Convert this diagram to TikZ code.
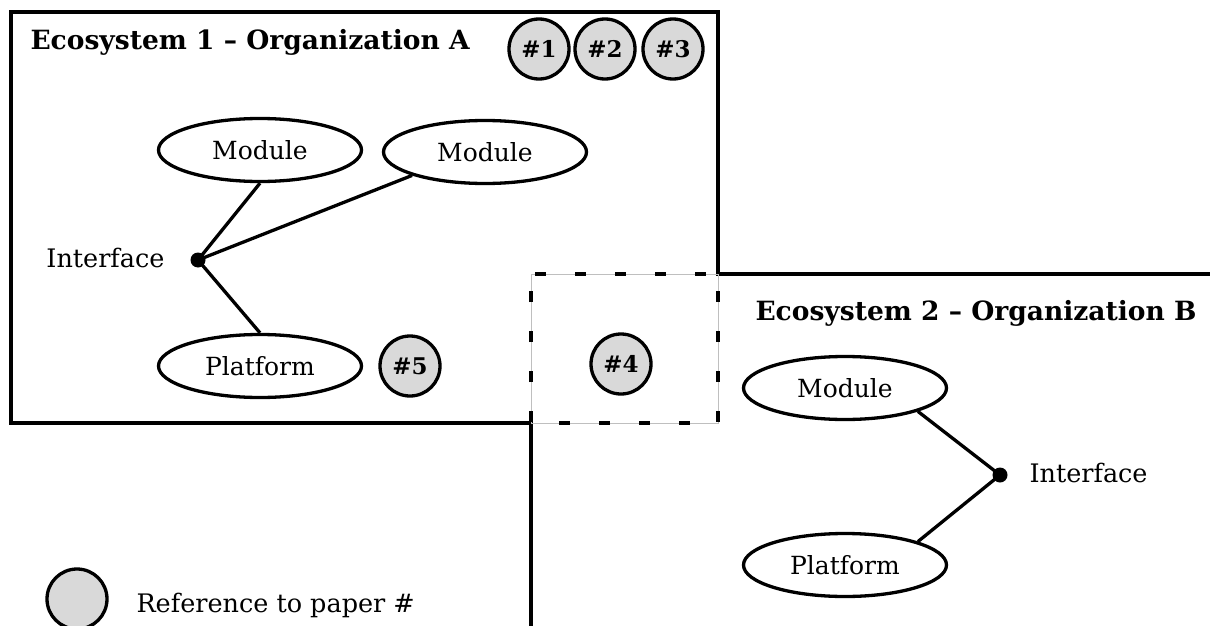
\documentclass[tikz,border=0pt]{standalone}
\usepackage{fontspec}
\setmainfont{DejaVu Serif}
\usetikzlibrary{shapes.geometric}
\definecolor{refgray}{HTML}{D9D9D9}
\begin{document}
\begin{tikzpicture}[x=1pt,y=-1pt,
  every node/.style={font=\fontsize{25}{28}\selectfont},
  boundary/.style={line width=4pt, line cap=rect},
  elem/.style={draw, ellipse, line width=3.3pt, minimum width=203pt, minimum height=63pt, inner sep=0pt},
  ref/.style={draw, circle, line width=3.3pt, fill=refgray, minimum size=60pt, inner sep=0pt, font=\fontsize{23}{26}\selectfont\bfseries},
  link/.style={line width=3.3pt},
  ifdot/.style={circle, fill=black, minimum size=15pt, inner sep=0pt},
  title/.style={anchor=west, font=\fontsize{26.5}{30}\selectfont\bfseries},
  lab/.style={font=\fontsize{25.5}{28}\selectfont}
]
\useasboundingbox (0,0) rectangle (1210,626);

% boundaries
\coordinate (c1) at (718,274);
\coordinate (c2) at (718,12);
\coordinate (c3) at (11,12);
\coordinate (c4) at (11,423);
\coordinate (c5) at (531,423);
\coordinate (c6) at (1212,274);
\coordinate (c7) at (531,628);
\coordinate (c8) at (531,274);
\coordinate (c9) at (718,423);
\draw[boundary] (c1) -- (c2) -- (c3) -- (c4) -- (c5);
\draw[boundary] (c1) -- (c6);
\draw[boundary] (c5) -- (c7);
\draw[gray!50, line width=1pt] (c8) rectangle (c9);
\draw[line width=4pt, dash pattern=on 11pt off 29pt, dash phase=-4pt] (c8) -- (c1) -- (c9) -- (c5) -- cycle;

% titles
\node[title] (t1) at (27,42) {Ecosystem 1 – Organization A};
\node[title] (t2) at (752,313) {Ecosystem 2 – Organization B};

% ecosystem 1
\node[elem] (m1) at (260,150) {Module};
\node[elem] (m2) at (485,152) {Module};
\node[elem] (p1) at (260,366) {Platform};
\node[ifdot] (d1) at (198,260) {};
\node[lab, anchor=east] (i1) at (168,258) {Interface};
\draw[link] (d1.center) -- (m1.south);
\draw[link] (d1.center) -- (m2.south west);
\draw[link] (d1.center) -- (p1.north);

\node[ref] (r1) at (539,49) {\#1};
\node[ref] (r2) at (605,49) {\#2};
\node[ref] (r3) at (673,49) {\#3};
\node[ref] (r5) at (410,366) {\#5};
\node[ref] (r4) at (621,364) {\#4};

% ecosystem 2
\node[elem] (m3) at (845,388) {Module};
\node[elem] (p2) at (845,565) {Platform};
\node[ifdot] (d2) at (1000,475) {};
\node[lab, anchor=west] (i2) at (1026,473) {Interface};
\draw[link] (m3.south east) -- (d2.center);
\draw[link] (p2.north east) -- (d2.center);

% legend
\node[ref] (lg) at (77,599) {};
\node[lab, anchor=west] (lt) at (133,605) {Reference to paper \#};
\end{tikzpicture}
\end{document}
